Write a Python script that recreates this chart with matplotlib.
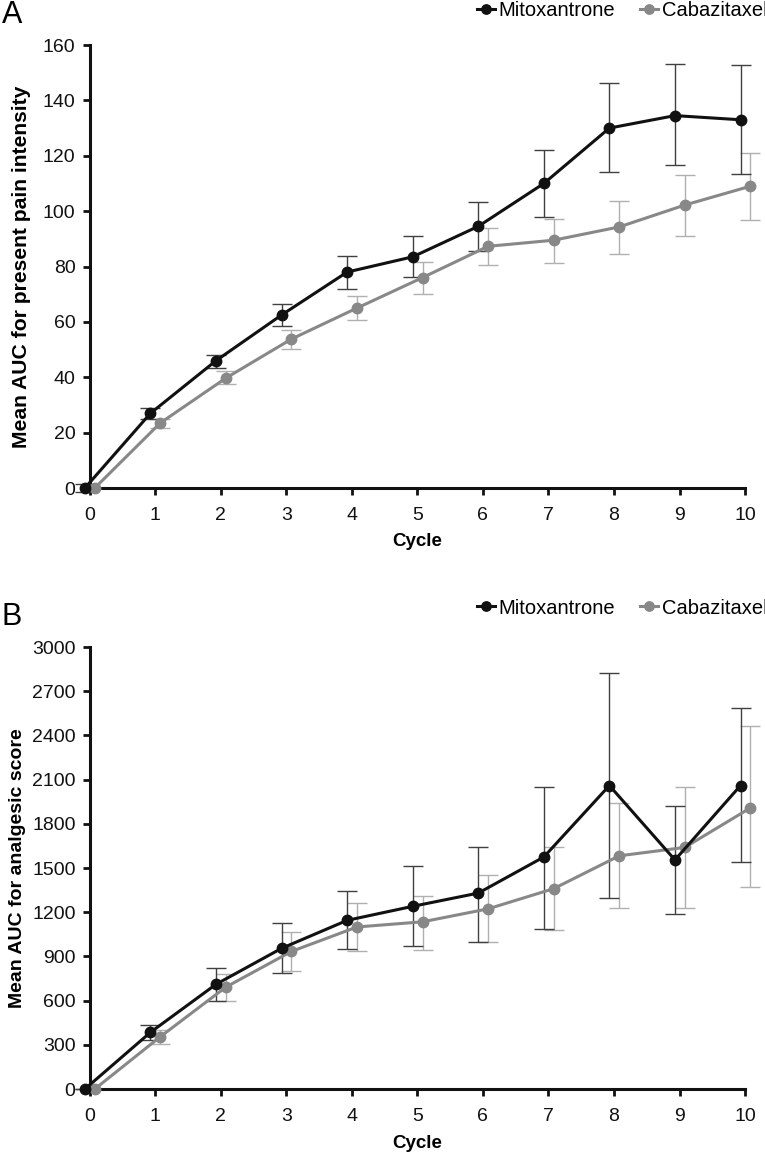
import numpy as np
import matplotlib
matplotlib.use("Agg")
import matplotlib.pyplot as plt

plt.rcParams["font.family"] = ["Liberation Sans", "DejaVu Sans"]

cycles = np.arange(0, 11)

# Panel A: present pain intensity
pain_mito = [0, 27, 46, 62.5, 78, 83.5, 94.5, 110, 130, 134.5, 133]
pain_mito_lo = [1.5, 2, 2.5, 4, 6, 7.3, 8.8, 12.2, 16, 17.9, 19.7]
pain_mito_hi = [1.5, 2, 2, 4, 5.7, 7.6, 8.9, 12, 16.4, 18.6, 19.8]
pain_caba = [0, 23.5, 39.7, 53.8, 65, 76, 87.3, 89.5, 94.3, 102.2, 109]
pain_caba_lo = [0, 1.8, 2.3, 3.6, 4.3, 5.9, 6.8, 8.2, 9.8, 11.1, 12.2]
pain_caba_hi = [0, 1.3, 2.5, 3.4, 4.4, 5.6, 6.7, 7.6, 9.4, 10.9, 12]

# Panel B: analgesic score
anal_mito = [0, 385, 711, 955, 1145, 1240, 1330, 1575, 2060, 1555, 2060]
anal_mito_lo = [0, 50, 112, 166, 194, 270, 330, 490, 760, 365, 520]
anal_mito_hi = [0, 50, 113, 170, 200, 273, 313, 475, 764, 366, 524]
anal_caba = [0, 355, 692, 934, 1100, 1135, 1223, 1360, 1583, 1640, 1908]
anal_caba_lo = [0, 47, 92, 132, 166, 190, 227, 281, 355, 412, 540]
anal_caba_hi = [0, 48, 88, 132, 162, 176, 227, 284, 358, 407, 555]

labels = ["Mitoxantrone", "Cabazitaxel"]
black = "#111111"
grey = "#888888"


def draw_panel(ax, m, mlo, mhi, c, clo, chi, ymax, ystep, ylabel, ylab_size,
               ylab_x, leg_y):
    xm = cycles - 0.07
    xc = cycles + 0.08
    ax.errorbar(xc, c, yerr=[clo, chi], fmt="none", ecolor="#b0b0b0",
                elinewidth=1.0, capsize=7, capthick=1.0, clip_on=False, zorder=2)
    ax.errorbar(xm, m, yerr=[mlo, mhi], fmt="none", ecolor="#404040",
                elinewidth=1.0, capsize=7, capthick=1.0, clip_on=False, zorder=3)
    ax.plot(xc, c, "-o", color=grey, lw=2.2, ms=7.5, clip_on=False,
            label=labels[1], zorder=4)
    ax.plot(xm, m, "-o", color=black, lw=2.2, ms=7.5, clip_on=False,
            label=labels[0], zorder=5)

    ax.set_xlim(0, 10)
    ax.set_ylim(0, ymax)
    ax.set_xticks(cycles)
    ax.set_yticks(np.arange(0, ymax + 1, ystep))
    for s in ["top", "right"]:
        ax.spines[s].set_visible(False)
    for s in ["left", "bottom"]:
        ax.spines[s].set_linewidth(2.2)
        ax.spines[s].set_color("#111111")
    ax.tick_params(axis="both", direction="out", length=5, width=2.0,
                   labelsize=14, colors="#111111")
    ax.tick_params(axis="x", pad=8.5)
    ax.tick_params(axis="y", pad=5)
    ax.set_xlabel("Cycle", fontsize=13.5, fontweight="bold", labelpad=7)
    ax.set_ylabel(ylabel, fontsize=ylab_size, fontweight="bold")
    ax.yaxis.set_label_coords(ylab_x, 0.5)

    h, l = ax.get_legend_handles_labels()
    fig = ax.figure
    ax.legend(h[::-1], l[::-1], loc="center right", bbox_to_anchor=(1.003, leg_y),
              bbox_transform=fig.transFigure, ncol=2, frameon=False,
              fontsize=14.5, handlelength=0.9, handletextpad=0.2,
              columnspacing=1.2, markerscale=0.9, borderpad=0, borderaxespad=0)


fig = plt.figure(figsize=(7.65, 11.54), dpi=100)
axA = fig.add_axes([0.117, 0.5771, 0.857, 0.3839])
axB = fig.add_axes([0.117, 0.0563, 0.857, 0.383])

draw_panel(axA, pain_mito, pain_mito_lo, pain_mito_hi,
           pain_caba, pain_caba_lo, pain_caba_hi,
           160, 20, "Mean AUC for present pain intensity", 15.2, -0.09,
           1 - 11 / 1154)
draw_panel(axB, anal_mito, anal_mito_lo, anal_mito_hi,
           anal_caba, anal_caba_lo, anal_caba_hi,
           3000, 300, "Mean AUC for analgesic score", 14, -0.097,
           1 - 608 / 1154)

fig.text(0.002, 1 - 15 / 1154, "A", fontsize=22, ha="left", va="center")
fig.text(0.002, 1 - 617 / 1154, "B", fontsize=22, ha="left", va="center")

fig.savefig("out.png", dpi=100)
